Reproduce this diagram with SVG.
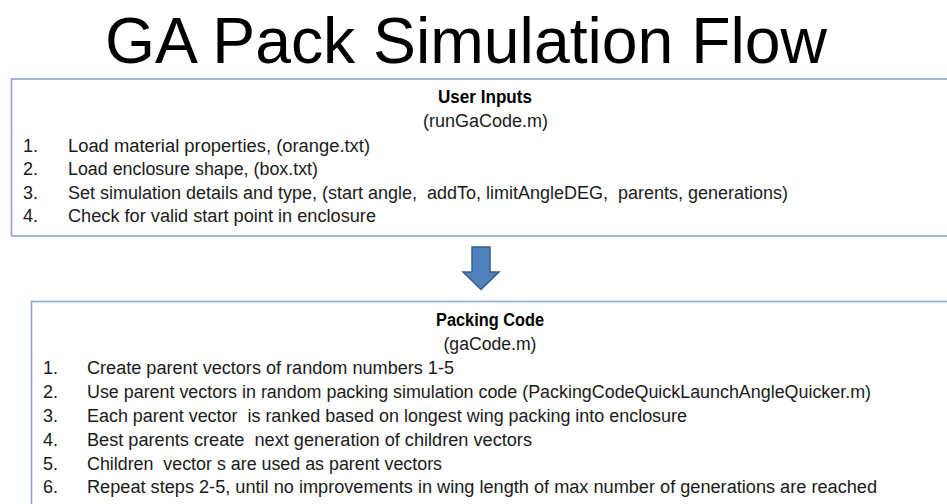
<svg xmlns="http://www.w3.org/2000/svg" width="947" height="504" viewBox="0 0 947 504">
<style>
.t{font-family:"Liberation Sans",Arial,sans-serif;font-size:18px;fill:#1a1a1a}
.b{font-weight:bold;fill:#000}
.box{fill:#fff;stroke:#8aa7d3;stroke-width:1.6}
.title{font-family:"Liberation Sans",Arial,sans-serif;font-size:64px;fill:#000}
</style>
<rect width="947" height="504" fill="#fff"/>
<text class="title" x="105" y="63" textLength="722" lengthAdjust="spacingAndGlyphs">GA Pack Simulation Flow</text>
<g id="user-inputs">
<rect class="box" x="11.5" y="79" width="960" height="157"/>
<text class="t b" x="485" y="103" text-anchor="middle" textLength="94" lengthAdjust="spacingAndGlyphs">User Inputs</text>
<text class="t" x="485.5" y="127" text-anchor="middle" textLength="125" lengthAdjust="spacingAndGlyphs">(runGaCode.m)</text>
<text class="t" x="23" y="152">1.</text>
<text class="t" x="68" y="152" textLength="302" lengthAdjust="spacingAndGlyphs">Load material properties, (orange.txt)</text>
<text class="t" x="23" y="175">2.</text>
<text class="t" x="68" y="175" textLength="250" lengthAdjust="spacingAndGlyphs">Load enclosure shape, (box.txt)</text>
<text class="t" x="23" y="199">3.</text>
<text class="t" x="68" y="199" textLength="720" lengthAdjust="spacingAndGlyphs" xml:space="preserve">Set simulation details and type, (start angle,  addTo, limitAngleDEG,  parents, generations)</text>
<text class="t" x="23" y="222">4.</text>
<text class="t" x="68" y="222" textLength="308" lengthAdjust="spacingAndGlyphs">Check for valid start point in enclosure</text>
</g>
<g id="connectors">
<path d="M472 247 H490 V272 H499 L481 289.5 L463 272 H472 Z" fill="#4f81bd" stroke="#385d8a" stroke-width="1.5" stroke-linejoin="miter"/>
</g>
<g id="packing-code">
<rect class="box" x="31.5" y="301.5" width="940" height="220"/>
<text class="t b" x="490" y="326" text-anchor="middle" textLength="108" lengthAdjust="spacingAndGlyphs">Packing Code</text>
<text class="t" x="490" y="350" text-anchor="middle" textLength="93" lengthAdjust="spacingAndGlyphs">(gaCode.m)</text>
<text class="t" x="43" y="374">1.</text>
<text class="t" x="87" y="374" textLength="367" lengthAdjust="spacingAndGlyphs">Create parent vectors of random numbers 1-5</text>
<text class="t" x="43" y="398">2.</text>
<text class="t" x="87" y="398" textLength="784" lengthAdjust="spacingAndGlyphs">Use parent vectors in random packing simulation code (PackingCodeQuickLaunchAngleQuicker.m)</text>
<text class="t" x="43" y="422">3.</text>
<text class="t" x="87" y="422" textLength="600" lengthAdjust="spacingAndGlyphs" xml:space="preserve">Each parent vector  is ranked based on longest wing packing into enclosure</text>
<text class="t" x="43" y="446">4.</text>
<text class="t" x="87" y="446" textLength="445" lengthAdjust="spacingAndGlyphs" xml:space="preserve">Best parents create  next generation of children vectors</text>
<text class="t" x="43" y="470">5.</text>
<text class="t" x="87" y="470" textLength="355" lengthAdjust="spacingAndGlyphs" xml:space="preserve">Children  vector s are used as parent vectors</text>
<text class="t" x="43" y="493">6.</text>
<text class="t" x="87" y="493" textLength="790" lengthAdjust="spacingAndGlyphs">Repeat steps 2-5, until no improvements in wing length of max number of generations are reached</text>
</g>
</svg>
